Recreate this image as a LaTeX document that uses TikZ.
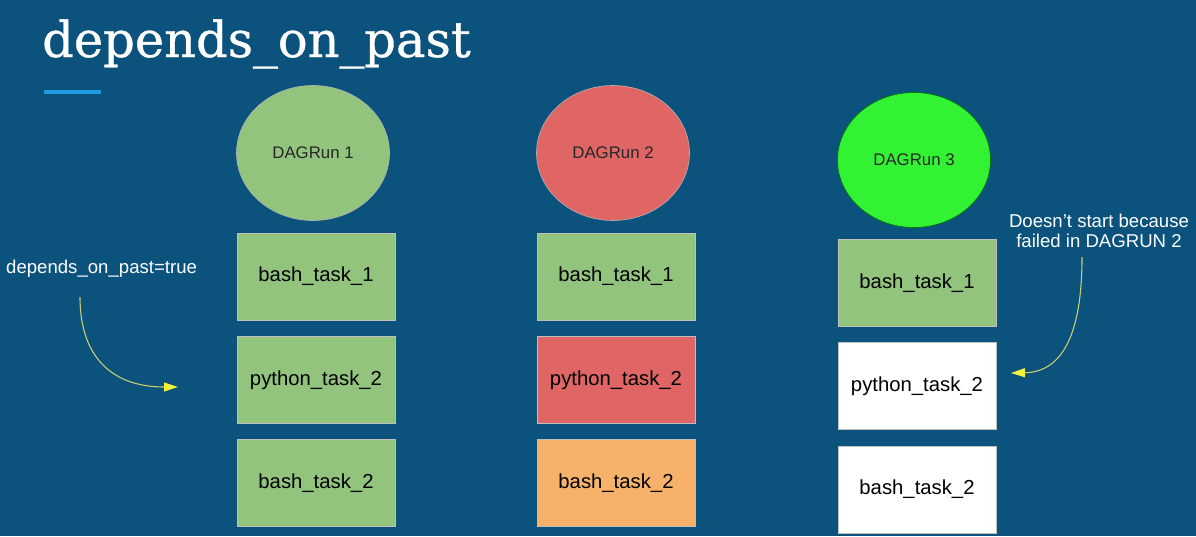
\documentclass[tikz,border=0pt]{standalone}
\usepackage{fontspec}
\setmainfont{Liberation Sans}
\newfontfamily\titlefont[FakeBold=0.7]{DejaVu Serif}
\usetikzlibrary{arrows.meta,shapes.geometric}
\definecolor{bg}{HTML}{0B527D}
\definecolor{okgreen}{HTML}{93C47D}
\definecolor{failred}{HTML}{E06666}
\definecolor{upstream}{HTML}{F6B26B}
\definecolor{brightgreen}{HTML}{33F233}
\definecolor{barblue}{HTML}{1E9BE3}
\definecolor{curve}{HTML}{C8CC72}
\definecolor{tipyellow}{HTML}{F5F03A}
\begin{document}
\begin{tikzpicture}[x=1pt,y=-1pt,
  taskbox/.style={draw=black!25,line width=0.6pt,minimum width=158pt,minimum height=87pt,inner sep=0pt,font=\fontsize{20.3}{23}\selectfont,text=black},
  runell/.style={ellipse,draw=black!30,line width=0.6pt,minimum width=153pt,minimum height=135pt,inner sep=0pt,font=\fontsize{16.8}{19}\selectfont,text=black!85},
  note/.style={text=white,font=\fontsize{18.6}{21}\selectfont,align=center,inner sep=0pt},
  yarrow/.style={draw=curve,line width=1.1pt,-{Triangle[length=14pt,width=9pt,fill=tipyellow,color=tipyellow]}}
]
\fill[bg] (0,0) rectangle (1196,536);
\useasboundingbox (0,0) rectangle (1196,536);
% title
\node[anchor=base west,inner sep=0pt,text=white,font=\titlefont\fontsize{49.5}{56}\selectfont] (title) at (42,57) {depends\_on\_past};
\fill[barblue] (44,90) rectangle (101,94);
% column 1
\node[runell,fill=okgreen] (r1) at (313,153) {DAGRun 1};
\node[taskbox,fill=okgreen] (a1) at (316,276.5) {bash\_task\_1};
\node[taskbox,fill=okgreen] (a2) at (316,380) {python\_task\_2};
\node[taskbox,fill=okgreen] (a3) at (316,483) {bash\_task\_2};
% column 2
\node[runell,fill=failred] (r2) at (613,153) {DAGRun 2};
\node[taskbox,fill=okgreen] (b1) at (616,276.5) {bash\_task\_1};
\node[taskbox,fill=failred] (b2) at (616,380) {python\_task\_2};
\node[taskbox,fill=upstream] (b3) at (616,483) {bash\_task\_2};
% column 3
\node[runell,fill=brightgreen,draw=green!45!black] (r3) at (914,160) {DAGRun 3};
\node[taskbox,fill=okgreen] (c1) at (917,283) {bash\_task\_1};
\node[taskbox,fill=white] (c2) at (917,386) {python\_task\_2};
\node[taskbox,fill=white] (c3) at (917,489.5) {bash\_task\_2};
% notes
\node[note,anchor=west] (n1) at (6,269) {depends\_on\_past=true};
\coordinate (s1) at (80,297);
\coordinate (t1) at (178,387);
\draw[yarrow] (s1) .. controls (80,360) and (115,387) .. (t1);
\node[note] (n2) at (1099,231) {Doesn’t start because\\[-1pt]failed in DAGRUN 2};
\coordinate (s2) at (1082,257);
\coordinate (t2) at (1011,373);
\draw[yarrow] (s2) .. controls (1082,335) and (1062,372) .. (t2);
\end{tikzpicture}
\end{document}
